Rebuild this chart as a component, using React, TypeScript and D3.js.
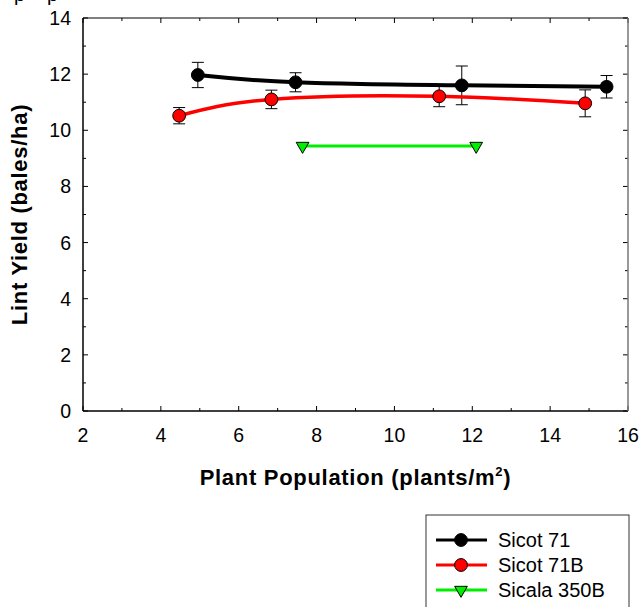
import React from "react";
import * as d3 from "d3";

// axis ticks
const xMajor = [2, 4, 6, 8, 10, 12, 14, 16];
const xMinor = [3, 5, 7, 9, 11, 13, 15];
const yMajor = [0, 2, 4, 6, 8, 10, 12, 14];
const yMinor = [1, 3, 5, 7, 9, 11, 13];

// Sicot 71
const sicot71Pop = [4.95, 7.46, 11.73, 15.45];
const sicot71Yield = [11.97, 11.71, 11.6, 11.55];
const sicot71Err = [0.45, 0.34, 0.69, 0.4];

// Sicot 71B
const sicot71BPop = [4.47, 6.84, 11.15, 14.9];
const sicot71BYield = [10.52, 11.1, 11.21, 10.96];
const sicot71BErr = [0.29, 0.33, 0.37, 0.48];

// Sicala 350B
const sicalaPop = [7.64, 12.1];
const sicalaYield = [9.44, 9.44];

const seriesNames = ["Sicot 71", "Sicot 71B", "Sicala 350B"];

const W = 643;
const H = 607;
const margin = { top: 18, right: 15, bottom: 196, left: 83 };

const x = d3.scaleLinear().domain([2, 16]).range([margin.left, W - margin.right]);
const y = d3.scaleLinear().domain([0, 14]).range([H - margin.bottom, margin.top]);

type Pt = { px: number; py: number; err?: number };

const zip = (xs: number[], ys: number[], es?: number[]): Pt[] =>
  xs.map((v, i) => ({ px: v, py: ys[i], err: es ? es[i] : undefined }));

const series = [
  { name: seriesNames[0], color: "#000000", width: 4, marker: "circle", pts: zip(sicot71Pop, sicot71Yield, sicot71Err) },
  { name: seriesNames[1], color: "#ff0000", width: 3.5, marker: "circle", pts: zip(sicot71BPop, sicot71BYield, sicot71BErr) },
  { name: seriesNames[2], color: "#00ee00", width: 3, marker: "triangle", pts: zip(sicalaPop, sicalaYield) },
];

const line = d3
  .line<Pt>()
  .x((d) => x(d.px))
  .y((d) => y(d.py))
  .curve(d3.curveNatural);

const Marker = ({ type, cx, cy, fill }: { type: string; cx: number; cy: number; fill: string }) => {
  if (type === "triangle") {
    const tri = d3.symbol().type(d3.symbolTriangle).size(70)();
    return (
      <path d={tri || ""} transform={`translate(${cx},${cy}) rotate(180)`} fill={fill} stroke="#000" strokeWidth={1} />
    );
  }
  return <circle cx={cx} cy={cy} r={6.4} fill={fill} stroke="#000" strokeWidth={1} />;
};

const App = () => {
  const x0 = x.range()[0];
  const x1 = x.range()[1];
  const y0 = y.range()[0];
  const y1 = y.range()[1];
  const font = "Arial, 'Liberation Sans', Helvetica, sans-serif";

  return (
    <svg width={W} height={H} style={{ position: "absolute", left: 0, top: 0 }} fontFamily={font}>
      <rect width={W} height={H} fill="#fff" />

      {/* cut-off text fragments at the very top, as in the source image */}
      <text x={14} y={0.5} fontSize={20}>p</text>
      <text x={47} y={0.5} fontSize={20}>p</text>

      {/* ticks, pointing inward on all four sides */}
      <g stroke="#000" strokeWidth={1}>
        {xMajor.map((t) => (
          <g key={"xM" + t}>
            <line x1={x(t)} x2={x(t)} y1={y0} y2={y0 - 5} />
            <line x1={x(t)} x2={x(t)} y1={y1} y2={y1 + 5} />
          </g>
        ))}
        {xMinor.map((t) => (
          <g key={"xm" + t}>
            <line x1={x(t)} x2={x(t)} y1={y0} y2={y0 - 3} />
            <line x1={x(t)} x2={x(t)} y1={y1} y2={y1 + 3} />
          </g>
        ))}
        {yMajor.map((t) => (
          <g key={"yM" + t}>
            <line x1={x0} x2={x0 + 5} y1={y(t)} y2={y(t)} />
            <line x1={x1} x2={x1 - 5} y1={y(t)} y2={y(t)} />
          </g>
        ))}
        {yMinor.map((t) => (
          <g key={"ym" + t}>
            <line x1={x0} x2={x0 + 3} y1={y(t)} y2={y(t)} />
            <line x1={x1} x2={x1 - 3} y1={y(t)} y2={y(t)} />
          </g>
        ))}
      </g>

      {/* frame */}
      <line x1={x0} x2={x1} y1={y1} y2={y1} stroke="#000" strokeWidth={1.2} />
      <line x1={x0} x2={x1} y1={y0} y2={y0} stroke="#000" strokeWidth={1.5} />
      <line x1={x0} x2={x0} y1={y0} y2={y1} stroke="#000" strokeWidth={1.5} />
      <line x1={x1} x2={x1} y1={y0} y2={y1} stroke="#777" strokeWidth={1.5} />

      {/* tick labels */}
      {xMajor.map((t) => (
        <text key={"xl" + t} x={x(t)} y={y0 + 31} textAnchor="middle" fontSize={19.5}>
          {t}
        </text>
      ))}
      {yMajor.map((t) => (
        <text key={"yl" + t} x={x0 - 12} y={y(t) + 7} textAnchor="end" fontSize={19.5}>
          {t}
        </text>
      ))}

      {/* axis titles */}
      <text x={(x0 + x1) / 2} y={485} textAnchor="middle" fontSize={22} fontWeight="bold" letterSpacing={0.7}>
        Plant Population (plants/m
        <tspan fontSize={13} dy={-9}>2</tspan>
        <tspan dy={9}>)</tspan>
      </text>
      <text
        transform="rotate(-90)"
        x={-(y0 + y1) / 2}
        y={27}
        textAnchor="middle"
        fontSize={22}
        fontWeight="bold"
        letterSpacing={0.7}
      >
        Lint Yield (bales/ha)
      </text>

      {/* series */}
      {series.map((s) => (
        <g key={s.name}>
          <path d={line(s.pts) || ""} fill="none" stroke={s.color} strokeWidth={s.width} />
          {s.pts
            .filter((p) => p.err !== undefined)
            .map((p, i) => {
              const cx = x(p.px);
              const top = y(p.py + (p.err as number));
              const bot = y(p.py - (p.err as number));
              return (
                <g key={i} stroke="#000" strokeWidth={1}>
                  <line x1={cx} x2={cx} y1={top} y2={bot} />
                  <line x1={cx - 6} x2={cx + 6} y1={top} y2={top} />
                  <line x1={cx - 6} x2={cx + 6} y1={bot} y2={bot} />
                </g>
              );
            })}
          {s.pts.map((p, i) => (
            <Marker key={i} type={s.marker} cx={x(p.px)} cy={y(p.py)} fill={s.color} />
          ))}
        </g>
      ))}

      {/* legend */}
      <g>
        <rect x={426} y={515} width={203} height={110} fill="#fff" stroke="#333" strokeWidth={1} />
        {series.map((s, i) => {
          const ly = 540 + i * 25;
          return (
            <g key={s.name}>
              <line x1={436} x2={487} y1={ly} y2={ly} stroke={s.color} strokeWidth={3} />
              <Marker type={s.marker} cx={461} cy={ly} fill={s.color} />
              <text x={498} y={ly + 7} fontSize={20}>
                {s.name}
              </text>
            </g>
          );
        })}
      </g>
    </svg>
  );
};

export default App;
